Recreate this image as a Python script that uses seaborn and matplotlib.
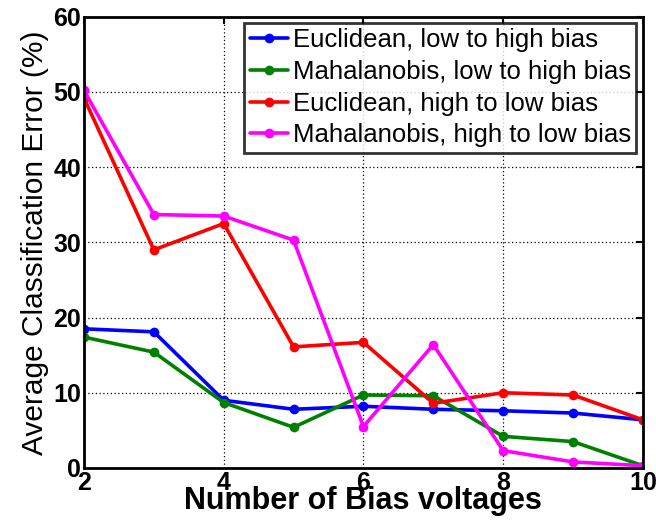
import matplotlib
matplotlib.use("Agg")
import matplotlib.pyplot as plt
import seaborn as sns
import pandas as pd

n_bias = [2, 3, 4, 5, 6, 7, 8, 9, 10]
eucl_low_high = [18.5, 18.1, 9.0, 7.8, 8.2, 7.8, 7.6, 7.3, 6.4]
maha_low_high = [17.4, 15.4, 8.7, 5.4, 9.7, 9.6, 4.2, 3.5, 0.3]
eucl_high_low = [49.2, 29.0, 32.5, 16.1, 16.7, 8.6, 10.0, 9.7, 6.4]
maha_high_low = [50.2, 33.7, 33.5, 30.3, 5.5, 16.4, 2.3, 0.8, 0.3]

series_names = [
    "Euclidean, low to high bias",
    "Mahalanobis, low to high bias",
    "Euclidean, high to low bias",
    "Mahalanobis, high to low bias",
]
series_values = [eucl_low_high, maha_low_high, eucl_high_low, maha_high_low]
colors = ["#0000ff", "#008000", "#ff0000", "#ff00ff"]

df = pd.concat(
    [pd.DataFrame({"bias": n_bias, "error": v, "series": name})
     for name, v in zip(series_names, series_values)],
    ignore_index=True,
)

sns.set_style("white")
plt.rcParams["font.family"] = ["Liberation Sans", "DejaVu Sans"]
plt.rcParams["text.color"] = "black"
plt.rcParams["axes.labelcolor"] = "black"

fig = plt.figure(figsize=(6.56, 5.24), dpi=100)
ax = fig.add_axes([0.128, 0.107, 0.852, 0.861])

sns.lineplot(
    data=df, x="bias", y="error", hue="series", hue_order=series_names,
    palette=colors, marker="o", markersize=7, markeredgewidth=0,
    linewidth=2.6, ax=ax, legend=True,
)

ax.set_xlim(2, 10)
ax.set_ylim(0, 60)
ax.set_xticks([2, 4, 6, 8, 10])
ax.set_yticks([0, 10, 20, 30, 40, 50, 60])
ax.grid(True, color="black", linestyle=(0, (1, 2)), linewidth=0.9)
ax.tick_params(direction="in", length=5, width=1.5, labelsize=18,
               colors="black", labelcolor="black", top=True, right=True, pad=2)
for lbl in ax.get_xticklabels() + ax.get_yticklabels():
    lbl.set_fontweight("bold")
for s in ax.spines.values():
    s.set_visible(True)
    s.set_color("black")
    s.set_linewidth(2)

ax.set_xlabel("Number of Bias voltages", fontsize=22, fontweight="bold",
              color="black", labelpad=-6)
ax.set_ylabel("Average Classification Error (%)", fontsize=21.5,
              color="black", labelpad=3)

leg = ax.legend(loc="upper right", fontsize=18.5, frameon=True, fancybox=False,
                borderpad=0.2, labelspacing=0.3, handlelength=1.5,
                handletextpad=0.2, borderaxespad=0.25)
leg.get_frame().set_edgecolor("black")
leg.get_frame().set_linewidth(2)
for t in leg.get_texts():
    t.set_color("black")

fig.savefig("out.png", dpi=100)
